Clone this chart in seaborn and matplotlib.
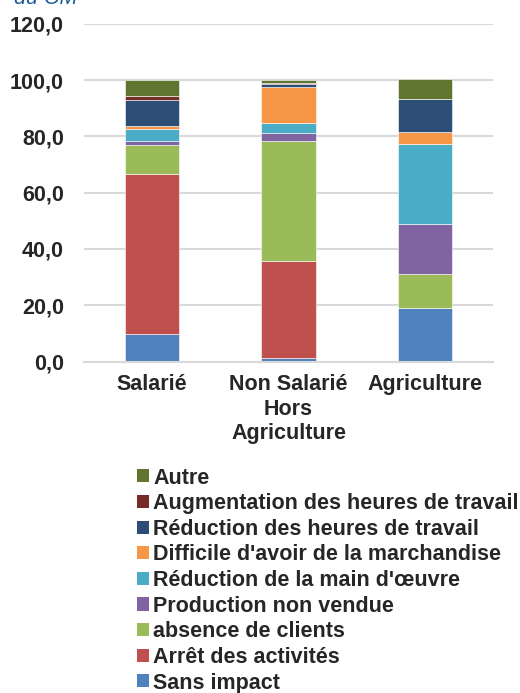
import matplotlib
matplotlib.use("Agg")
import matplotlib.pyplot as plt
import seaborn as sns
import numpy as np
import pandas as pd
from matplotlib.patches import Patch

categories = ["Salarié", "Non Salarié\nHors\nAgriculture", "Agriculture"]
series_names = ["Sans impact", "Arrêt des activités", "absence de clients",
                "Production non vendue", "Réduction de la main d'œuvre",
                "Difficile d'avoir de la marchandise", "Réduction des heures de travail",
                "Augmentation des heures de travail", "Autre"]
sans_impact = [9.8, 1.1, 18.9]
arret = [56.9, 34.6, 0.2]
absence = [10.1, 42.6, 11.9]
production = [1.6, 2.9, 17.9]
reduction_main = [4.2, 3.4, 28.5]
difficile = [0.9, 12.9, 4.0]
reduction_heures = [9.5, 1.2, 12.0]
augmentation = [1.3, 0.3, 0.0]
autre = [5.7, 1.0, 6.8]
yticks = [0, 20, 40, 60, 80, 100, 120]

colors = ["#4F81BD", "#C0504D", "#9BBB59", "#8064A2", "#4BACC6",
          "#F79646", "#2C4D75", "#772C2A", "#5F7530"]

values = [sans_impact, arret, absence, production, reduction_main,
          difficile, reduction_heures, augmentation, autre]

sns.set_theme(style="white")
plt.rcParams['font.family'] = ['Liberation Sans', 'DejaVu Sans']

FS = 15.5
fig = plt.figure(figsize=(5.2, 6.93), dpi=100)
ax = fig.add_axes([84/520, (693-361.5)/693, 409/520, (361.5-23.7)/693])

bottom = np.zeros(len(categories))
for name, vals, col in zip(series_names, values, colors):
    df = pd.DataFrame({"cat": categories, "val": vals})
    sns.barplot(data=df, x="cat", y="val", color=col, width=0.4,
                bottom=bottom.copy(), ax=ax, saturation=1,
                edgecolor="#FFFFFF", linewidth=0.4)
    bottom += np.array(vals)

ax.set_ylim(0, 120)
ax.set_xlim(-0.5, 2.5)
ax.set_yticks(yticks)
ax.set_yticklabels([f"{v:.1f}".replace(".", ",") for v in yticks],
                   fontsize=FS, fontweight="bold")
ax.set_xticks(range(3))
ax.set_xticklabels(categories, fontsize=FS, fontweight="bold", linespacing=1.22)
ax.tick_params(axis="y", length=0, pad=14.4)
ax.tick_params(axis="x", length=0, pad=9)
ax.set_xlabel("")
ax.set_ylabel("")
ax.yaxis.grid(True, color="#D9D9D9", linewidth=1.5)
ax.set_axisbelow(True)
for s in ["left", "right", "top"]:
    ax.spines[s].set_visible(False)
ax.spines["bottom"].set_color("#D9D9D9")
ax.spines["bottom"].set_linewidth(1.5)

fig.text(77/520, 1 - 4.5/693, "du CM", color="#1F5C99", fontsize=FS,
         fontstyle="italic", ha="right", va="baseline")

handles = [Patch(facecolor=c, edgecolor="none") for c in colors][::-1]
labels = series_names[::-1]
fig.legend(handles, labels, loc="upper left",
           bbox_to_anchor=(137/520, 1 - 467.5/693), frameon=False,
           prop={"weight": "bold", "size": FS}, handlelength=0.56,
           handleheight=0.56, handletextpad=0.2, labelspacing=0.215,
           borderpad=0, borderaxespad=0)

fig.savefig("out.png", dpi=100)
